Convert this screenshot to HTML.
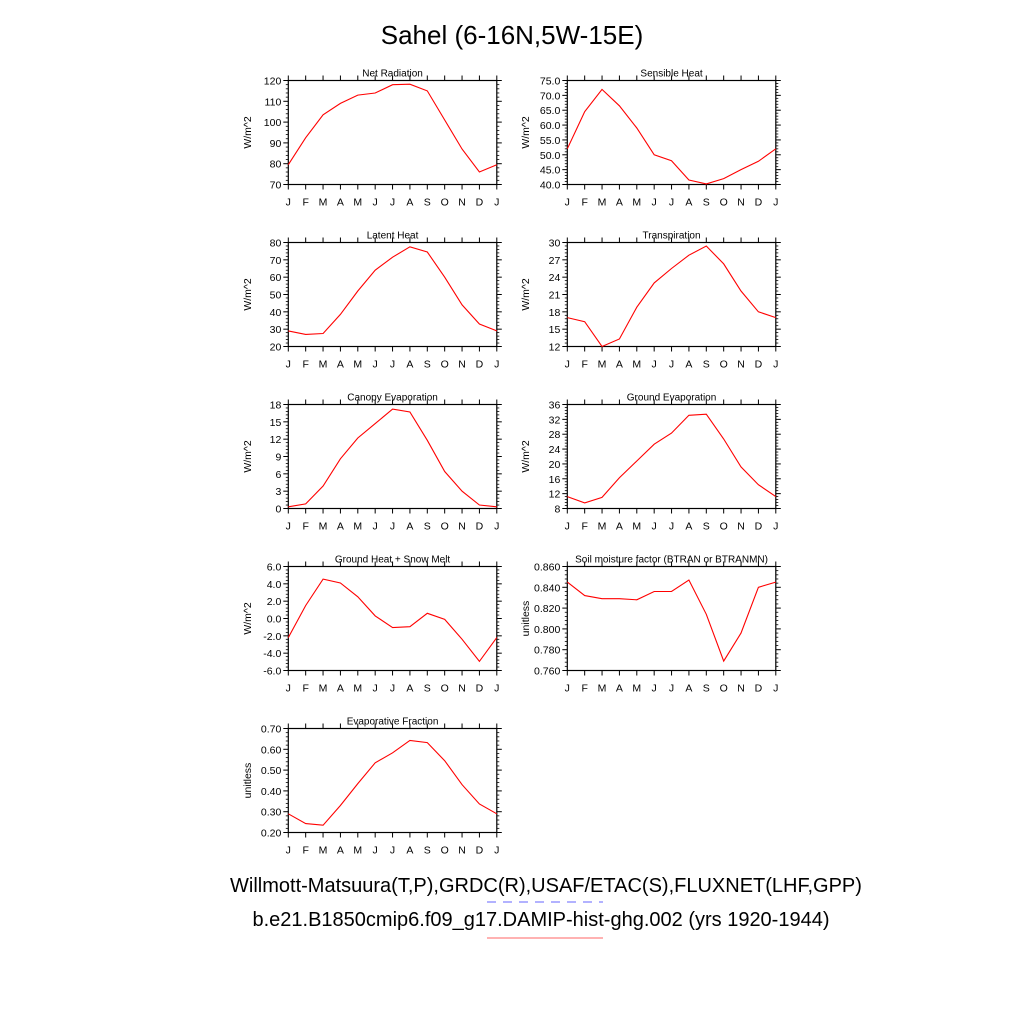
<!DOCTYPE html>
<html><head><meta charset="utf-8">
<style>
html,body{margin:0;padding:0;background:#fff;}
svg{display:block;font-family:"Liberation Sans",sans-serif;}
</style></head>
<body>
<svg id="chart" width="1024" height="1024" viewBox="0 0 1024 1024">
<rect width="1024" height="1024" fill="#fff"/>
<text x="512" y="44" font-size="26" text-anchor="middle">Sahel (6-16N,5W-15E)</text>
<text x="546" y="892" font-size="20" text-anchor="middle">Willmott-Matsuura(T,P),GRDC(R),USAF/ETAC(S),FLUXNET(LHF,GPP)</text>
<line x1="487" y1="902" x2="603" y2="902" stroke="#9999ff" stroke-width="1.5" stroke-dasharray="9,7"/>
<text x="541" y="926" font-size="20" text-anchor="middle">b.e21.B1850cmip6.f09_g17.DAMIP-hist-ghg.002 (yrs 1920-1944)</text>
<line x1="487" y1="938" x2="603" y2="938" stroke="#ff9999" stroke-width="1.5"/>
</svg>
<script>
const months = ["J","F","M","A","M","J","J","A","S","O","N","D","J"];
const netRad = [79.5,92.5,103.5,109,113,114,118,118.2,115,101,87,76,79.5];
const sensible = [52,64.5,72,66.5,59,50,48,41.5,40.2,42,45,47.8,52];
const latent = [29,27,27.5,38.5,52,64,71.5,77.5,74.5,60,44,33,29];
const transp = [17,16.3,12,13.3,18.8,23,25.5,27.8,29.4,26.3,21.6,18,17];
const canopy = [0.3,0.8,3.9,8.6,12.2,14.7,17.2,16.7,11.8,6.4,3,0.6,0.3];
const groundEvap = [11.2,9.5,11,16.3,20.8,25.3,28.3,33.1,33.4,26.7,19.2,14.4,11.2];
const groundHeat = [-2.2,1.5,4.55,4.1,2.5,0.3,-1.05,-0.95,0.6,-0.1,-2.4,-4.95,-2.2];
const soilMoist = [0.845,0.832,0.829,0.829,0.828,0.836,0.836,0.847,0.814,0.769,0.796,0.840,0.845];
const evapFrac = [0.29,0.243,0.235,0.33,0.435,0.535,0.583,0.643,0.632,0.545,0.43,0.337,0.29];
const ticksNet = [70,80,90,100,110,120];
const ticksSens = [40,45,50,55,60,65,70,75];
const ticksLat = [20,30,40,50,60,70,80];
const ticksTr = [12,15,18,21,24,27,30];
const ticksCan = [0,3,6,9,12,15,18];
const ticksGE = [8,12,16,20,24,28,32,36];
const ticksGH = [-6,-4,-2,0,2,4,6];
const ticksSM = [0.76,0.78,0.80,0.82,0.84,0.86];
const ticksEF = [0.2,0.3,0.4,0.5,0.6,0.7];

const panels = [
 {name:"net-radiation",title:"Net Radiation",y:netRad,ticks:ticksNet,dec:0,unit:"W/m^2",col:0,row:0},
 {name:"sensible-heat",title:"Sensible Heat",y:sensible,ticks:ticksSens,dec:1,unit:"W/m^2",col:1,row:0},
 {name:"latent-heat",title:"Latent Heat",y:latent,ticks:ticksLat,dec:0,unit:"W/m^2",col:0,row:1},
 {name:"transpiration",title:"Transpiration",y:transp,ticks:ticksTr,dec:0,unit:"W/m^2",col:1,row:1},
 {name:"canopy-evaporation",title:"Canopy Evaporation",y:canopy,ticks:ticksCan,dec:0,unit:"W/m^2",col:0,row:2},
 {name:"ground-evaporation",title:"Ground Evaporation",y:groundEvap,ticks:ticksGE,dec:0,unit:"W/m^2",col:1,row:2},
 {name:"ground-heat-snow-melt",title:"Ground Heat + Snow Melt",y:groundHeat,ticks:ticksGH,dec:1,unit:"W/m^2",col:0,row:3},
 {name:"soil-moisture-factor",title:"Soil moisture factor (BTRAN or BTRANMN)",y:soilMoist,ticks:ticksSM,dec:3,unit:"unitless",col:1,row:3},
 {name:"evaporative-fraction",title:"Evaporative Fraction",y:evapFrac,ticks:ticksEF,dec:2,unit:"unitless",col:0,row:4}
];
const NS="http://www.w3.org/2000/svg";
const svg=document.getElementById("chart");
function mk(tag,attrs,parent){const e=document.createElementNS(NS,tag);for(const k in attrs)e.setAttribute(k,attrs[k]);parent.appendChild(e);return e;}
panels.forEach(p=>{
  const x0 = p.col===0?288.3:567.3, w=208.5;
  const y0 = 80.5 + p.row*162, h=104;
  const g=mk("g",{},svg);
  
  
  const tmin=p.ticks[0], tmax=p.ticks[p.ticks.length-1];
  const sx=i=>x0+i*w/12;
  const sy=v=>y0+h-(v-tmin)/(tmax-tmin)*h;
  const fr=mk("rect",{x:x0,y:y0,width:w,height:h,fill:"none",stroke:"#000","stroke-width":1.2},g);
  
  
  const t=mk("text",{x:x0+w/2,y:y0-4,"font-size":10,"text-anchor":"middle"},g);
  t.textContent=p.title;
  
  
  // x ticks
  months.forEach((m,i)=>{
    const x=sx(i);
    mk("line",{x1:x,y1:y0+h,x2:x,y2:y0+h+5,stroke:"#000","stroke-width":1},g);
    mk("line",{x1:x,y1:y0,x2:x,y2:y0-5,stroke:"#000","stroke-width":1},g);
    const lt=mk("text",{x:x,y:y0+h+21,"font-size":10.5,"text-anchor":"middle"},g);
    lt.textContent=m;
    
    
  });
  // y ticks
  const step=p.ticks[1]-p.ticks[0];
  p.ticks.forEach((v,k)=>{
    const y=sy(v);
    mk("line",{x1:x0,y1:y,x2:x0-5,y2:y,stroke:"#000","stroke-width":1},g);
    mk("line",{x1:x0+w,y1:y,x2:x0+w+5,y2:y,stroke:"#000","stroke-width":1},g);
    const lt=mk("text",{x:x0-7,y:y+4,"font-size":10.5,"text-anchor":"end"},g);
    lt.textContent=v.toFixed(p.dec);
    
    
    if(k<p.ticks.length-1){
      for(let j=1;j<5;j++){
        const ym=sy(v+step*j/5);
        mk("line",{x1:x0,y1:ym,x2:x0-2.5,y2:ym,stroke:"#000","stroke-width":0.8},g);
        mk("line",{x1:x0+w,y1:ym,x2:x0+w+2.5,y2:ym,stroke:"#000","stroke-width":0.8},g);
      }
    }
  });
  const lx = p.col===0?251:529;
  const yl=mk("text",{x:lx,y:y0+h/2,"font-size":10.5,"text-anchor":"middle",transform:`rotate(-90 ${lx} ${y0+h/2})`},g);
  yl.textContent=p.unit;
  
  
  const pts=p.y.map((v,i)=>sx(i).toFixed(1)+","+sy(v).toFixed(1)).join(" ");
  const pl=mk("polyline",{points:pts,fill:"none",stroke:"#ff0000","stroke-width":1.1},g);
  
  
});
</script>
</body></html>
